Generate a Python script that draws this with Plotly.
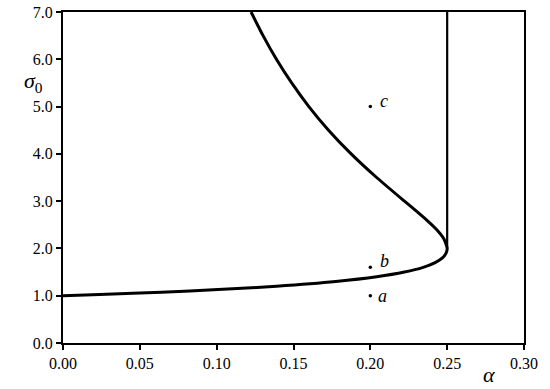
import plotly.graph_objects as go

# Stability boundary (sigma_0 vs alpha)
sigma_curve = [1.0, 1.02, 1.05, 1.1, 1.15, 1.2, 1.3, 1.4, 1.5, 1.6, 1.7, 1.8, 1.9, 2.0,
               2.2, 2.4, 2.6, 2.8, 3.0, 3.5, 4.0, 4.5, 5.0, 5.5, 6.0, 6.5, 7.0]
alpha_curve = [0.0, 0.0192, 0.0454, 0.0826, 0.1134, 0.1389, 0.1775, 0.2041, 0.2222, 0.2344,
               0.2422, 0.2469, 0.2493, 0.25, 0.2479, 0.2431, 0.2367, 0.2296, 0.2222, 0.2041,
               0.1875, 0.1728, 0.16, 0.1488, 0.1389, 0.1302, 0.1224]

# Vertical boundary
alpha_vert = [0.25, 0.25]
sigma_vert = [2.0, 7.0]

# Marked points
pt_alpha = [0.20, 0.20, 0.20]
pt_sigma = [1.0, 1.6, 5.0]
pt_labels = ["a", "b", "c"]

x_ticks = [0.0, 0.05, 0.10, 0.15, 0.20, 0.25, 0.30]
x_ticktext = ["0.00", "0.05", "0.10", "0.15", "0.20", "0.25", "0.30"]
y_ticks = [0, 1, 2, 3, 4, 5, 6, 7]
y_ticktext = ["0.0", "1.0", "2.0", "3.0", "4.0", "5.0", "6.0", "7.0"]

FONT = "Liberation Serif"

fig = go.Figure()
fig.add_trace(go.Scatter(x=alpha_curve, y=sigma_curve, mode="lines",
                         line=dict(color="black", width=3, shape="spline", smoothing=0.6),
                         hoverinfo="skip", showlegend=False))
fig.add_trace(go.Scatter(x=alpha_vert, y=sigma_vert, mode="lines",
                         line=dict(color="black", width=2.2),
                         hoverinfo="skip", showlegend=False))
fig.add_trace(go.Scatter(x=pt_alpha, y=pt_sigma, mode="markers",
                         marker=dict(color="black", size=3.5),
                         hoverinfo="skip", showlegend=False))

for xa, ys, lab in zip(pt_alpha, pt_sigma, pt_labels):
    fig.add_annotation(x=xa, y=ys, text="<i>" + lab + "</i>", showarrow=False,
                       xanchor="left", yanchor="middle",
                       xshift=8 if lab != "a" else 6, yshift=0 if lab == "a" else 6,
                       font=dict(family=FONT, size=18, color="black"))

fig.add_annotation(xref="paper", yref="paper", x=-0.065, y=0.79,
                   xanchor="center", yanchor="middle",
                   text="<i>σ</i><sub>0</sub>", showarrow=False,
                   font=dict(family=FONT, size=22, color="black"))
fig.add_annotation(xref="paper", yref="paper", x=0.925, y=-0.095,
                   xanchor="center", yanchor="middle",
                   text="<i>α</i>", showarrow=False,
                   font=dict(family=FONT, size=22, color="black"))

axis_common = dict(showgrid=False, zeroline=False, showline=True, linecolor="black",
                   linewidth=2, mirror=True, ticks="outside", ticklen=5, tickwidth=1.5,
                   tickcolor="black", automargin=False,
                   tickfont=dict(family=FONT, size=16, color="black"))
fig.update_xaxes(range=[0, 0.30], tickvals=x_ticks, ticktext=x_ticktext, **axis_common)
fig.update_yaxes(range=[0, 7], tickvals=y_ticks, ticktext=y_ticktext, **axis_common)

fig.update_layout(width=550, height=389, plot_bgcolor="white", paper_bgcolor="white",
                  margin=dict(l=63, r=26, t=12, b=46, autoexpand=False))

fig.write_html("out.html", config={"displayModeBar": False},
               post_script="document.body.style.margin='0';")
